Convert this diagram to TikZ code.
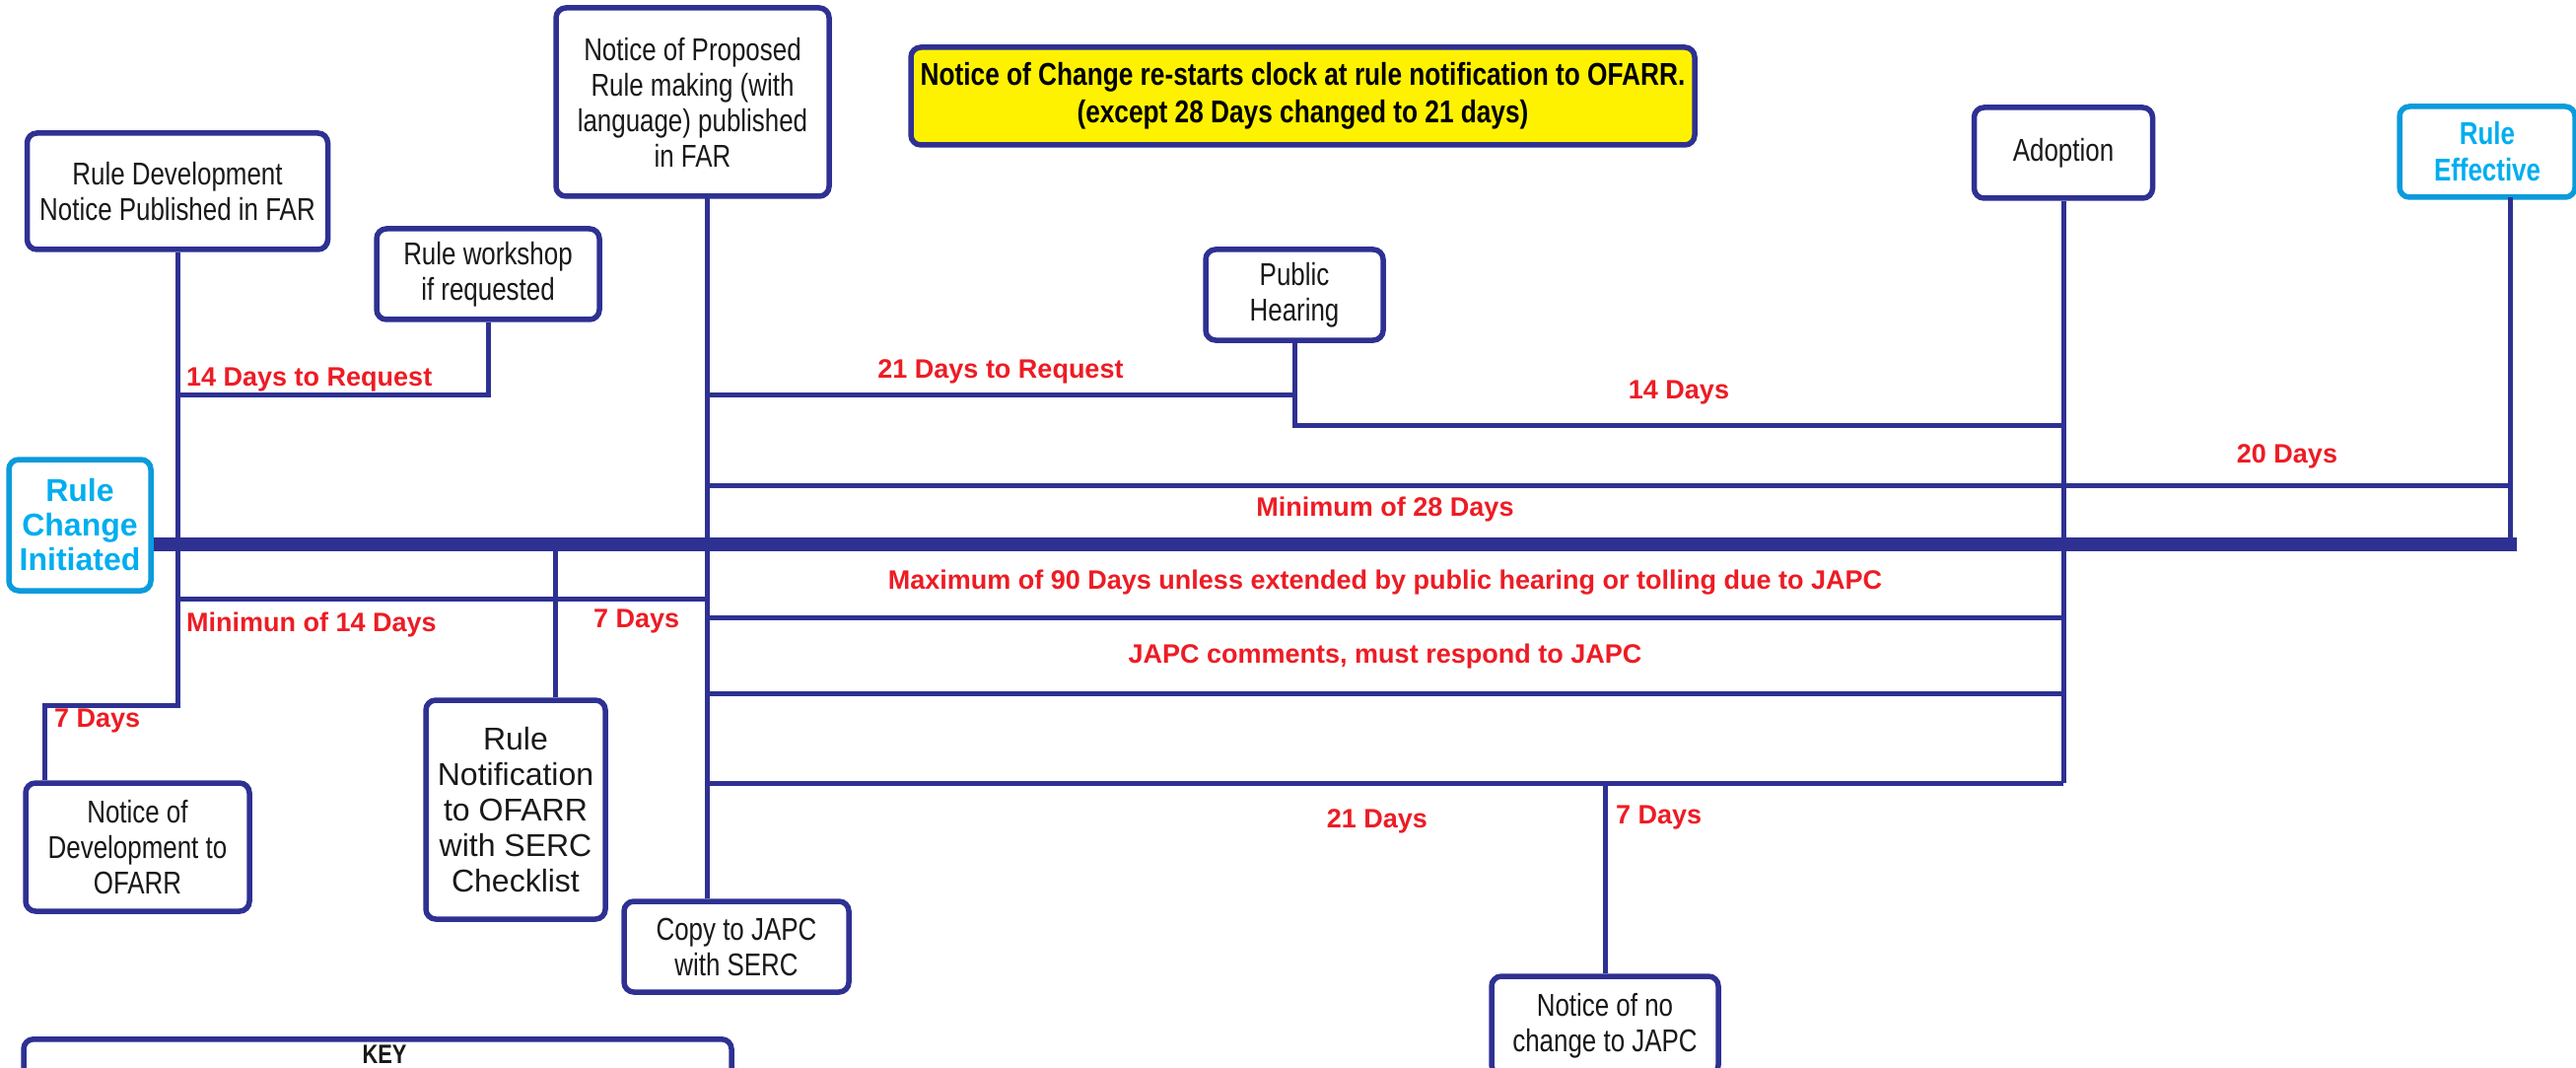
\documentclass[tikz,border=0pt]{standalone}
\usepackage{fontspec}
\setmainfont{Liberation Sans}
\newfontfamily\nfont[FakeStretch=0.81]{Liberation Sans}
\newfontfamily\ynfont[FakeStretch=0.82]{Liberation Sans}
\definecolor{dkblue}{HTML}{2E3192}
\definecolor{cyanb}{HTML}{0B9BDB}
\definecolor{cyant}{HTML}{00AEEF}
\definecolor{redc}{HTML}{ED1C24}
\definecolor{yel}{HTML}{FFF200}
\tikzset{
  box/.style={draw=dkblue, line width=5.5pt, rounded corners=10pt, fill=white, inner sep=0pt, align=center, text=black!90, font=\nfont\fontsize{32}{36}\selectfont},
  bluebox/.style={box, draw=cyanb, text=cyant},
  lbl/.style={text=redc, inner sep=0pt, font=\bfseries\fontsize{27}{32}\selectfont},
  ln/.style={draw=dkblue, line width=5pt},
  spine/.style={draw=dkblue, line width=14pt}
}
\begin{document}
\begin{tikzpicture}[x=1pt,y=-1pt]
\useasboundingbox[fill=white] (0,0) rectangle (2613,1083);
% coordinates
\coordinate (a1) at (180,715);
\coordinate (a2) at (45,715);
\coordinate (w1) at (180,400);
\coordinate (m1) at (180,607);
\coordinate (m2) at (717,607);
\coordinate (nx) at (717,199);
\coordinate (r400) at (717,400);
\coordinate (r431) at (2093,431);
\coordinate (r492a) at (717,492);
\coordinate (r492b) at (2546,492);
\coordinate (r626a) at (717,626);
\coordinate (r626b) at (2093,626);
\coordinate (r703a) at (717,703);
\coordinate (r703b) at (2093,703);
\coordinate (r794a) at (717,794);
\coordinate (r794b) at (2093,794);
\coordinate (nn) at (1628,794);
\coordinate (rnx) at (563,552);
\coordinate (rex) at (2546,200);
\coordinate (tk) at (2553,552);

% nodes
\node[box, minimum width=305, minimum height=118] (RD) at (180,194) {Rule Development\\Notice Published in FAR};
\node[box, minimum width=226, minimum height=92] (RW) at (495,278) {Rule workshop\\if requested};
\node[box, minimum width=277, minimum height=191] (NPRM) at (702.5,103.5) {Notice of Proposed\\Rule making (with\\language) published\\in FAR};
\node[box, fill=yel, minimum width=795, minimum height=99, font=\ynfont\bfseries\fontsize{32}{38}\selectfont, text=black] (YB) at (1321.5,97.5) {Notice of Change re-starts clock at rule notification to OFARR.\\(except 28 Days changed to 21 days)};
\node[box, minimum width=180, minimum height=92] (PH) at (1313,299) {Public\\Hearing};
\node[box, minimum width=181, minimum height=92] (AD) at (2093,155) {Adoption};
\node[bluebox, minimum width=178, minimum height=92, font=\nfont\bfseries\fontsize{32}{37}\selectfont] (RE) at (2523,154) {Rule\\Effective};
\node[bluebox, minimum width=144, minimum height=133, font=\bfseries\fontsize{32}{35}\selectfont] (RCI) at (81,532.5) {Rule\\Change\\Initiated};
\node[box, minimum width=227, minimum height=130] (NoD) at (139.5,859) {Notice of\\Development to\\OFARR};
\node[box, minimum width=182, minimum height=222, font=\fontsize{32}{36}\selectfont] (RN) at (523,821) {Rule\\Notification\\to OFARR\\with SERC\\Checklist};
\node[box, minimum width=228, minimum height=92] (CJ) at (747,960) {Copy to JAPC\\with SERC};
\node[box, minimum width=230, minimum height=100] (NNC) at (1628,1040) {Notice of no\\change to JAPC};
\node[box, minimum width=718, minimum height=90, anchor=north] (KEY) at (383,1051) {};
\node[inner sep=0pt, font=\nfont\bfseries\fontsize{27}{32}\selectfont, text=black!90] (KEYT) at (390,1069) {KEY};

% connectors
\draw[ln] (RD.south) -- (a1) -- (a2) -- (a2 |- NoD.north);
\draw[ln] (RW.south) |- (w1);
\draw[ln] (m1) -- (m2);
\draw[ln] (nx) -- (nx |- CJ.north);
\draw[ln] (r400) -| (PH.south);
\draw[ln] (PH.south) |- (r431);
\draw[ln] (AD.south) -- (r794b);
\draw[ln] (r492a) -- (r492b);
\draw[ln] (rex) -- (rex |- tk);
\draw[ln] (r626a) -- (r626b);
\draw[ln] (r703a) -- (r703b);
\draw[ln] (r794a) -- (r794b);
\draw[ln] (nn) -- (NNC.north);
\draw[ln] (rnx) -- (rnx |- RN.north);
\draw[spine] (RCI.east |- tk) -- (tk);

% labels
\node[lbl, anchor=west] (L1) at (189,385) {14 Days to Request};
\node[lbl] (L2) at (1015,377) {21 Days to Request};
\node[lbl] (L3) at (1703,398) {14 Days};
\node[lbl] (L4) at (2320,463) {20 Days};
\node[lbl] (L5) at (1405,517) {Minimum of 28 Days};
\node[lbl] (L6) at (1405,591) {Maximum of 90 Days unless extended by public hearing or tolling due to JAPC};
\node[lbl] (L7) at (1405,666) {JAPC comments, must respond to JAPC};
\node[lbl, anchor=west] (L8) at (189,634) {Minimun of 14 Days};
\node[lbl, anchor=west] (L9) at (602,630) {7 Days};
\node[lbl, anchor=west] (L10) at (55,731) {7 Days};
\node[lbl] (L11) at (1397,833) {21 Days};
\node[lbl, anchor=west] (L12) at (1639,829) {7 Days};
\end{tikzpicture}
\end{document}
